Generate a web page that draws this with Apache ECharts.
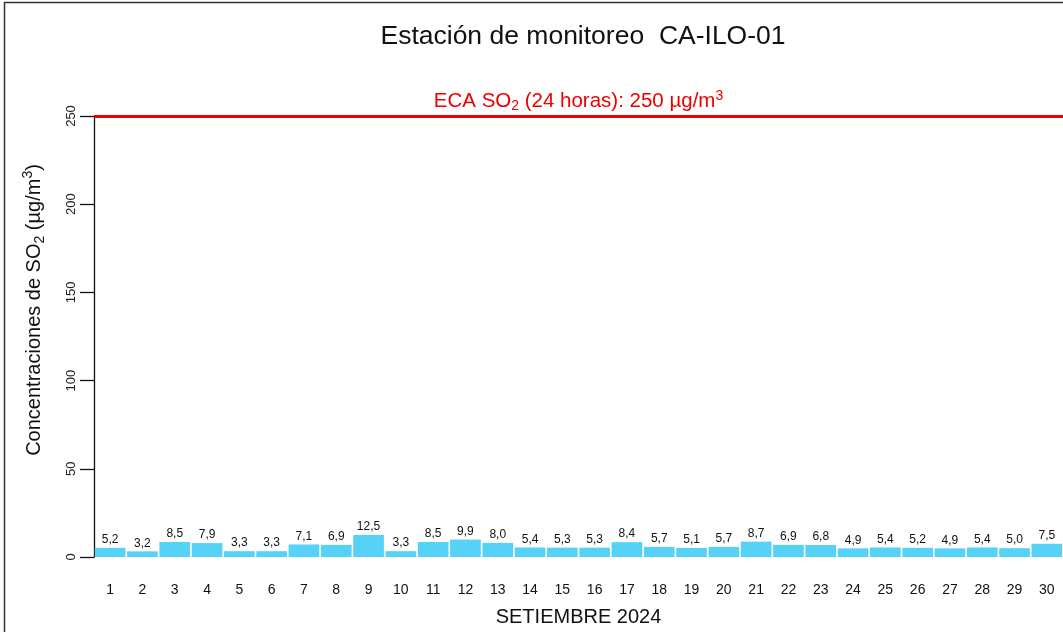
<!DOCTYPE html>
<html>
<head>
<meta charset="utf-8">
<script src="https://cdn.jsdelivr.net/npm/echarts@6/dist/echarts.min.js"></script>
<style>html,body{margin:0;padding:0;background:#fff;overflow:hidden}#c{width:100vw;height:100vh}</style>
</head>
<body>
<div id="c"></div>
<script>
var days = ['1','2','3','4','5','6','7','8','9','10','11','12','13','14','15','16','17','18','19','20','21','22','23','24','25','26','27','28','29','30'];
var so2 = [5.2,3.2,8.5,7.9,3.3,3.3,7.1,6.9,12.5,3.3,8.5,9.9,8.0,5.4,5.3,5.3,8.4,5.7,5.1,5.7,8.7,6.9,6.8,4.9,5.4,5.2,4.9,5.4,5.0,7.5];
var eca = 250;
var yTicks = [0,50,100,150,200,250];
var titleText = 'Estación de monitoreo  CA-ILO-01';
var xTitle = 'SETIEMBRE 2024';

var FONT = '"Liberation Sans", Arial, sans-serif';
var el = document.getElementById('c');
var chart = echarts.init(el);
chart.setOption({
  animation: false,
  textStyle: {fontFamily: FONT},
  title: {
    text: titleText, left: 578, top: 18, textAlign: 'center',
    textStyle: {fontFamily: FONT, fontSize: 26.5, fontWeight: 'normal', color: '#111'}
  },
  grid: {left: 94, right: 0, top: 116, height: 441, containLabel: false},
  xAxis: {
    type: 'category', data: days,
    axisLine: {show: false}, axisTick: {show: false},
    axisLabel: {fontSize: 14, color: '#111', margin: 26, fontFamily: FONT},
    name: xTitle, nameLocation: 'middle', nameGap: 50,
    nameTextStyle: {fontSize: 20, color: '#111', fontFamily: FONT}
  },
  yAxis: {
    type: 'value', min: 0, max: 250, interval: 50,
    splitLine: {show: false},
    axisLine: {show: true, lineStyle: {color: '#111', width: 1.3}},
    axisTick: {show: true, length: 14, lineStyle: {color: '#111', width: 1.3}},
    axisLabel: {rotate: 90, fontSize: 13, color: '#222', margin: 16, fontFamily: FONT,
      formatter: function (v) { return yTicks.indexOf(v) >= 0 ? String(v) : ''; }}
  },
  series: [{
    type: 'bar', data: so2, barCategoryGap: '5%',
    itemStyle: {color: '#55d2f6'},
    label: {show: true, position: 'top', distance: 2, fontSize: 12, color: '#111', fontFamily: FONT,
      formatter: function (p) { return p.value.toFixed(1).replace('.', ','); }},
    markLine: {
      symbol: 'none', silent: true,
      lineStyle: {color: '#ee0000', width: 3, type: 'solid'},
      label: {
        show: true, position: 'insideMiddleTop', distance: 3,
        formatter: '{a|ECA SO}{s|2}{a| (24 horas): ' + eca + ' µg/m}{p|3}',
        rich: {
          a: {fontSize: 20.5, color: '#ee0000', fontFamily: FONT, lineHeight: 24},
          s: {fontSize: 14, color: '#ee0000', fontFamily: FONT, verticalAlign: 'bottom', lineHeight: 16, padding: [9,0,0,0]},
          p: {fontSize: 14, color: '#ee0000', fontFamily: FONT, verticalAlign: 'top', lineHeight: 16, padding: [0,0,9,0]}
        }
      },
      data: [{yAxis: eca}]
    }
  }],
  graphic: [
    {type: 'rect', shape: {x: 4.5, y: 2.5, width: 1100, height: 700}, style: {fill: 'none', stroke: '#333', lineWidth: 1.5}, z: 100},
    {type: 'text', x: 34, y: 310, rotation: Math.PI / 2,
      style: {
        text: '{a|Concentraciones de SO}{s|2}{a| (µg/m}{p|3}{a|)}',
        align: 'center', verticalAlign: 'middle',
        rich: {
          a: {fontSize: 20, fill: '#111', fontFamily: FONT, lineHeight: 26},
          s: {fontSize: 14, fill: '#111', fontFamily: FONT, verticalAlign: 'bottom', lineHeight: 16, padding: [10,0,0,0]},
          p: {fontSize: 14, fill: '#111', fontFamily: FONT, verticalAlign: 'top', lineHeight: 16, padding: [0,0,10,0]}
        }
      }}
  ]
});
</script>
</body>
</html>
